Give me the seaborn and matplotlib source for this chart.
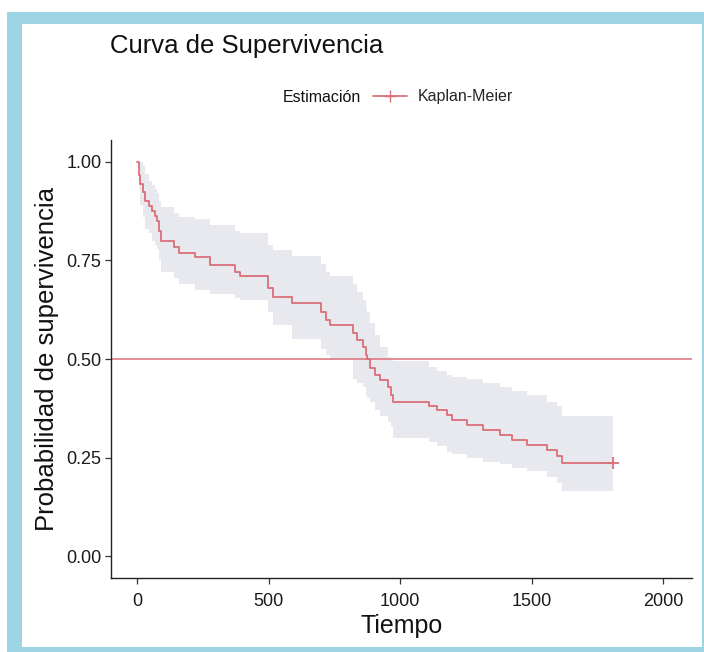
import matplotlib
matplotlib.use("Agg")
import matplotlib.pyplot as plt
from matplotlib.patches import Rectangle
from matplotlib.lines import Line2D
import seaborn as sns

# ---- data ----
times = [0, 5, 12, 22, 30, 45, 56, 66, 75, 82, 90, 140, 157, 220, 278, 372, 392,
         498, 517, 589, 700, 717, 734, 820, 836, 859, 869, 874, 886, 905, 924,
         955, 965, 973, 1110, 1140, 1178, 1197, 1255, 1316, 1380, 1425, 1483,
         1558, 1597, 1616, 1810]
surv = [1.0, 0.967, 0.944, 0.922, 0.90, 0.888, 0.876, 0.862, 0.85, 0.825, 0.80,
        0.785, 0.768, 0.758, 0.737, 0.72, 0.71, 0.68, 0.657, 0.641, 0.62, 0.60,
        0.586, 0.565, 0.548, 0.53, 0.51, 0.50, 0.477, 0.46, 0.447, 0.43, 0.41,
        0.391, 0.38, 0.37, 0.358, 0.346, 0.333, 0.32, 0.308, 0.295, 0.283,
        0.27, 0.255, 0.237, 0.237]
upper = [1.0, 1.0, 1.0, 0.99, 0.97, 0.95, 0.94, 0.93, 0.92, 0.90, 0.885,
         0.87, 0.86, 0.855, 0.84, 0.825, 0.82, 0.79, 0.775, 0.76, 0.74, 0.72,
         0.71, 0.69, 0.67, 0.65, 0.63, 0.62, 0.59, 0.56, 0.53, 0.505, 0.50,
         0.495, 0.48, 0.47, 0.46, 0.455, 0.45, 0.44, 0.43, 0.42, 0.41, 0.39,
         0.38, 0.355, 0.355]
lower = [1.0, 0.93, 0.89, 0.86, 0.83, 0.82, 0.80, 0.79, 0.78, 0.75, 0.72,
         0.705, 0.69, 0.675, 0.665, 0.655, 0.65, 0.62, 0.585, 0.55, 0.525, 0.51,
         0.497, 0.45, 0.44, 0.43, 0.41, 0.40, 0.39, 0.37, 0.355, 0.34, 0.33,
         0.30, 0.29, 0.28, 0.265, 0.26, 0.25, 0.24, 0.235, 0.225, 0.215, 0.20,
         0.185, 0.165, 0.16]
censor_t = [1810]
censor_s = [0.237]
ref_level = 0.5
xticks = [0, 500, 1000, 1500, 2000]
yticks = [0.00, 0.25, 0.50, 0.75, 1.00]
ytick_labels = ["0.00", "0.25", "0.50", "0.75", "1.00"]

title = "Curva de Supervivencia"
xlabel = "Tiempo"
ylabel = "Probabilidad de supervivencia"
legend_title = "Estimación"
legend_label = "Kaplan-Meier"

# ---- style ----
sns.set_style("white")
plt.rcParams["font.family"] = ["Liberation Sans", "DejaVu Sans"]

RED = "#DB6F79"
BAND = "#E8E9EE"
BLUE = "#9ED5E4"

W, H = 704, 652
fig = plt.figure(figsize=(W / 100, H / 100), dpi=100)
fig.patch.set_facecolor("white")
# blue frame and white interior
fig.patches.append(Rectangle((7 / W, 0), 1 - 7 / W, (H - 12) / H,
                             transform=fig.transFigure, facecolor=BLUE,
                             edgecolor="none", zorder=-10))
fig.patches.append(Rectangle((22 / W, 5 / H), (702 - 22) / W, (H - 24 - 5) / H,
                             transform=fig.transFigure, facecolor="white",
                             edgecolor="none", zorder=-9))

ax = fig.add_axes([111 / W, (H - 578) / H, (692 - 111) / W, (578 - 140) / H])
ax.set_facecolor("none")

ax.fill_between(times, lower, upper, step="post", color=BAND, linewidth=0, zorder=1)
sns.lineplot(x=times, y=surv, drawstyle="steps-post", color=RED, linewidth=1.3,
             estimator=None, sort=False, ax=ax, legend=False, zorder=3)
sns.scatterplot(x=censor_t, y=censor_s, marker="+", s=70, color=RED,
                linewidth=1.3, ax=ax, legend=False, zorder=4)
ax.axhline(ref_level, color=RED, linewidth=1.1, zorder=2)

ax.set_xlim(-100, 2110)
ax.set_ylim(-0.055, 1.055)
ax.set_xticks(xticks)
ax.set_yticks(yticks)
ax.set_yticklabels(ytick_labels)
ax.tick_params(axis="both", which="major", direction="out", length=4, width=0.9,
               color="#333333", labelsize=13, labelcolor="#1a1a1a", pad=3,
               left=True, bottom=True)
ax.tick_params(axis="x", pad=7)
for side in ["top", "right"]:
    ax.spines[side].set_visible(False)
for side in ["left", "bottom"]:
    ax.spines[side].set_color("#222222")
    ax.spines[side].set_linewidth(1.0)

ax.set_xlabel(xlabel, fontsize=18, color="#111111", labelpad=3)
ax.set_ylabel(ylabel, fontsize=18.5, color="#111111", labelpad=5)

fig.text(110 / W, 1 - 46 / H, title, fontsize=18.5, color="#111111",
         ha="left", va="center")
fig.text(283 / W, 1 - 97 / H, legend_title, fontsize=11.5, color="#111111",
         ha="left", va="center")
handle = Line2D([], [], color=RED, linewidth=1.3, marker="+", markersize=8)
fig.legend(handles=[handle], labels=[legend_label], loc="center left",
           bbox_to_anchor=(373 / W, 1 - 97 / H), frameon=False, fontsize=11.5,
           handlelength=2.1, handletextpad=0.7, borderpad=0, borderaxespad=0)

fig.savefig("out.png", dpi=100)
